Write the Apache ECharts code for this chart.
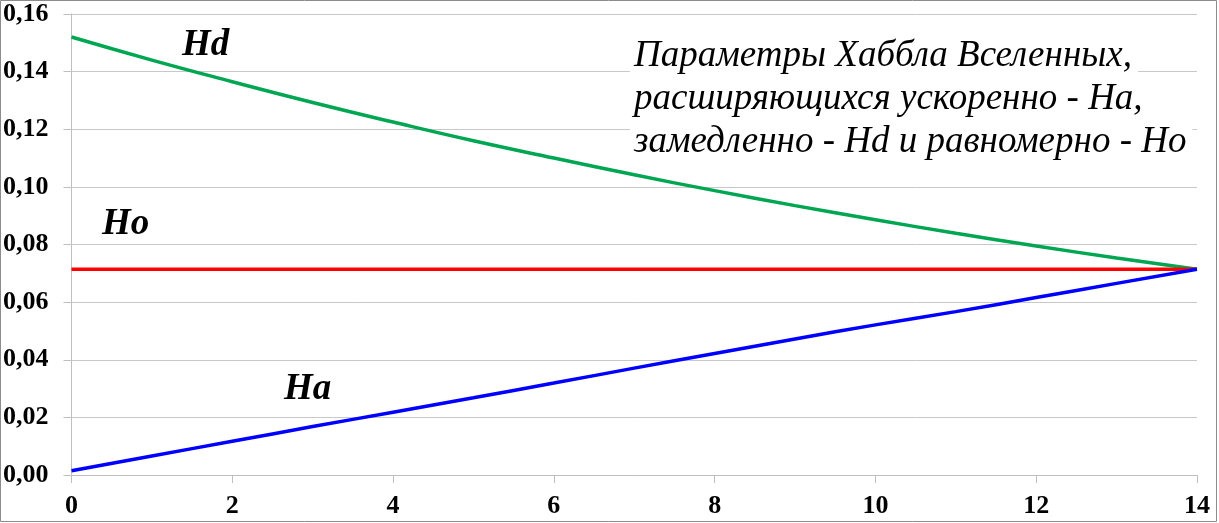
<!DOCTYPE html>
<html>
<head>
<meta charset="utf-8">
<script src="https://cdn.jsdelivr.net/npm/echarts@6/dist/echarts.min.js"></script>
<style>
html,body{margin:0;padding:0;background:#fff;}
#chart{width:1219px;height:523px;}
</style>
</head>
<body>
<div id="chart"></div>
<script>
var t = [0,1,2,3,4,5,6,7,8,9,10,11,12,13,14];
var Hd = [0.152,0.144,0.1365,0.1293,0.1225,0.116,0.110,0.1042,0.0987,0.0935,0.0886,0.0839,0.0795,0.0753,0.0714];
var Ho = [0.0714,0.0714,0.0714,0.0714,0.0714,0.0714,0.0714,0.0714,0.0714,0.0714,0.0714,0.0714,0.0714,0.0714,0.0714];
var Ha = [0.0015,0.0066,0.0117,0.0168,0.0218,0.0268,0.0319,0.0371,0.0422,0.0472,0.0521,0.0567,0.0616,0.0665,0.0714];
var xTicks = [0,2,4,6,8,10,12,14];
var yTicks = [0,0.02,0.04,0.06,0.08,0.10,0.12,0.14,0.16];
var labels = {Hd:'Hd', Ho:'Ho', Ha:'Ha'};
var titleLines = ['Параметры Хаббла Вселенных,','расширяющихся ускоренно - Ha,','замедленно - Hd и равномерно - Ho'];

function pairs(arr){ return t.map(function(x,i){ return [x, arr[i]]; }); }

var chart = echarts.init(document.getElementById('chart'));
var serif = '"Liberation Serif","Times New Roman",serif';
var labelFont = {fontFamily: serif, fontWeight:'bold', fontStyle:'italic', fontSize:37, fill:'#000'};

var graphics = [
  {type:'rect', shape:{x:0.5,y:0.5,width:1216,height:521}, style:{fill:'none', stroke:'#8c8c8c', lineWidth:1}, z:100},
  {type:'text', x:182, y:27, style:Object.assign({text:labels.Hd}, labelFont), z:50},
  {type:'text', x:102, y:206, style:Object.assign({text:labels.Ho}, labelFont), z:50},
  {type:'text', x:284, y:371, style:Object.assign({text:labels.Ha}, labelFont), z:50}
];
titleLines.forEach(function(s, i){
  graphics.push({type:'text', x:630, y:36 + i*43, z:40,
    style:{text:s, fontFamily:serif, fontStyle:'italic', fontSize:37, fill:'#000',
      backgroundColor:'#fff', padding:[2,6,2,4]}});
});

chart.setOption({
  animation:false,
  backgroundColor:'#fff',
  grid:{left:71, right:22, top:14, bottom:48, containLabel:false},
  xAxis:{
    type:'value', min:0, max:14, interval:2,
    axisLine:{show:true, onZero:false, lineStyle:{color:'#bfbfbf', width:1}},
    axisTick:{show:true, length:8, lineStyle:{color:'#bfbfbf'}},
    splitLine:{show:false},
    axisLabel:{margin:18, color:'#000', fontFamily:serif, fontWeight:'bold', fontSize:26,
      formatter:function(v){ return xTicks.indexOf(v) >= 0 ? String(v) : ''; }}
  },
  yAxis:{
    type:'value', min:0, max:0.16, interval:0.02,
    axisLine:{show:true, lineStyle:{color:'#bfbfbf', width:1}},
    axisTick:{show:true, length:8, lineStyle:{color:'#bfbfbf'}},
    splitLine:{show:true, lineStyle:{color:'#c8c8c8', width:1}},
    axisLabel:{margin:23, color:'#000', fontFamily:serif, fontWeight:'bold', fontSize:26,
      formatter:function(v){
        var m = yTicks.filter(function(y){ return Math.abs(y - v) < 1e-9; });
        return m.length ? v.toFixed(2).replace('.', ',') : '';
      }}
  },
  series:[
    {name:'Hd', type:'line', data:pairs(Hd), smooth:true, showSymbol:false, lineStyle:{color:'#00a651', width:3.5}, z:3},
    {name:'Ho', type:'line', data:pairs(Ho), showSymbol:false, lineStyle:{color:'#ff0000', width:3.5}, z:4},
    {name:'Ha', type:'line', data:pairs(Ha), smooth:true, showSymbol:false, lineStyle:{color:'#0000ff', width:3.5}, z:5}
  ],
  graphic: graphics
});
</script>
</body>
</html>
